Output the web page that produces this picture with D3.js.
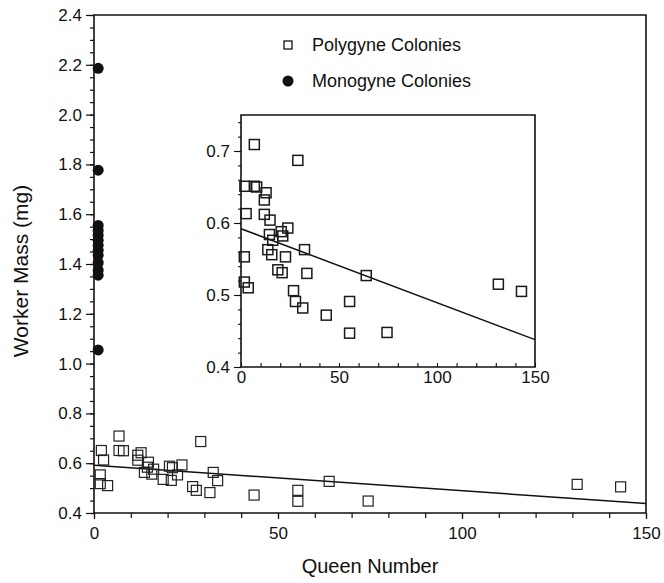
<!DOCTYPE html>
<html>
<head>
<meta charset="utf-8">
<script src="https://cdnjs.cloudflare.com/ajax/libs/d3/7.8.5/d3.min.js"></script>
<style>
  body { margin: 0; background: #fff; }
  text { font-family: "Liberation Sans", Arial, sans-serif; fill: #111; }
</style>
</head>
<body>
<div id="chart"></div>
<script>
// polygyne colonies: queen number / worker mass (mg)
var polyQueens = [6.8, 29.0, 2.0, 6.8, 8.0, 12.8, 11.9, 2.6, 11.9, 14.8, 23.9, 20.5, 14.5, 21.3, 16.2,
                  13.7, 32.4, 1.7, 15.7, 22.7, 18.8, 21.0, 33.6, 1.7, 3.7, 26.8, 27.8, 31.5, 43.5,
                  55.4, 55.4, 63.9, 74.5, 131.3, 143.1];
var polyMass = [0.709, 0.687, 0.651, 0.651, 0.650, 0.642, 0.632, 0.613, 0.612, 0.604, 0.593, 0.588, 0.584, 0.582, 0.576,
                0.563, 0.563, 0.553, 0.556, 0.553, 0.535, 0.531, 0.530, 0.518, 0.510, 0.506, 0.491, 0.482, 0.472,
                0.491, 0.447, 0.527, 0.448, 0.515, 0.505];
// monogyne colonies (one queen each)
var monoQueens = [1, 1, 1, 1, 1, 1, 1, 1, 1, 1, 1, 1, 1];
var monoMass = [2.186, 1.777, 1.555, 1.535, 1.515, 1.495, 1.475, 1.455, 1.435, 1.405, 1.375, 1.355, 1.055];
// regression line
var fitQueens = [0, 150];
var fitMass = [0.592, 0.438];

var mainXTicks = [0, 50, 100, 150];
var mainYTicks = [0.4, 0.6, 0.8, 1.0, 1.2, 1.4, 1.6, 1.8, 2.0, 2.2, 2.4];
var insetXTicks = [0, 50, 100, 150];
var insetYTicks = [0.4, 0.5, 0.6, 0.7];

var svg = d3.select('#chart').append('svg')
            .attr('width', 664)
            .attr('height', 583);

var x = d3.scaleLinear().domain([0, 150]).range([94, 646]);
var y = d3.scaleLinear().domain([0.4, 2.4]).range([513, 15]);

var ix = d3.scaleLinear().domain([0, 150]).range([241, 535]);
var iy = d3.scaleLinear().domain([0.4, 0.75]).range([367, 115]);

function styleAxis(g, width) {
  g.select('.domain').remove();
  g.selectAll('line').attr('stroke', '#111').attr('stroke-width', width);
  g.selectAll('text').attr('font-size', '17px').attr('fill', '#111');
}

// ---- main plot ----
svg.append('g')
   .attr('transform', 'translate(0,513)')
   .call(d3.axisBottom(x).tickValues(d3.range(0, 151, 10)).tickSize(5).tickFormat(''))
   .call(styleAxis, 1.2);
svg.append('g')
   .attr('transform', 'translate(0,513)')
   .call(d3.axisBottom(x).tickValues(mainXTicks).tickSize(6).tickPadding(8).tickFormat(d3.format('d')))
   .call(styleAxis, 1.2);

svg.append('g')
   .attr('transform', 'translate(94,0)')
   .call(d3.axisLeft(y).tickValues(d3.range(0.4, 2.401, 0.05)).tickSize(4).tickFormat(''))
   .call(styleAxis, 1.2);
svg.append('g')
   .attr('transform', 'translate(94,0)')
   .call(d3.axisLeft(y).tickValues(mainYTicks).tickSize(8).tickPadding(4).tickFormat(d3.format('.1f')))
   .call(styleAxis, 1.2);

// frame
svg.append('path')
   .attr('d', 'M94,15V513H646V15Z')
   .attr('fill', 'none')
   .attr('stroke', '#111')
   .attr('stroke-width', 1.6);

var mainLine = d3.line()
                 .x(function(d, i){ return x(fitQueens[i]); })
                 .y(function(d, i){ return y(fitMass[i]); });
svg.append('path')
   .attr('d', mainLine(fitQueens))
   .attr('fill', 'none')
   .attr('stroke', '#111')
   .attr('stroke-width', 1.5);

svg.append('g').selectAll('rect')
   .data(polyQueens)
   .enter().append('rect')
   .attr('x', function(d){ return x(d) - 5; })
   .attr('y', function(d, i){ return y(polyMass[i]) - 5; })
   .attr('width', 10)
   .attr('height', 10)
   .attr('fill', 'none')
   .attr('stroke', '#222')
   .attr('stroke-width', 1.2);

svg.append('g').selectAll('circle')
   .data(monoQueens)
   .enter().append('circle')
   .attr('cx', function(d){ return x(d) + 0.5; })
   .attr('cy', function(d, i){ return y(monoMass[i]); })
   .attr('r', 5.5)
   .attr('fill', '#111');

// axis titles
svg.append('text')
   .attr('x', 370)
   .attr('y', 573)
   .attr('text-anchor', 'middle')
   .attr('font-size', '20px')
   .text('Queen Number');
svg.append('text')
   .attr('transform', 'translate(28,271) rotate(-90)')
   .attr('text-anchor', 'middle')
   .attr('font-size', '21px')
   .text('Worker Mass (mg)');

// legend
svg.append('rect')
   .attr('x', 284).attr('y', 41)
   .attr('width', 8).attr('height', 8)
   .attr('fill', 'none')
   .attr('stroke', '#111')
   .attr('stroke-width', 1.3);
svg.append('text')
   .attr('x', 312).attr('y', 51)
   .attr('font-size', '18px')
   .text('Polygyne Colonies');
svg.append('circle')
   .attr('cx', 288).attr('cy', 81)
   .attr('r', 5.5)
   .attr('fill', '#111');
svg.append('text')
   .attr('x', 312).attr('y', 87)
   .attr('font-size', '18px')
   .text('Monogyne Colonies');

// ---- inset ----
svg.append('rect')
   .attr('x', 241).attr('y', 115)
   .attr('width', 294).attr('height', 252)
   .attr('fill', '#fff');

svg.append('g')
   .attr('transform', 'translate(0,367)')
   .call(d3.axisTop(ix).tickValues(d3.range(0, 151, 10)).tickSize(4).tickFormat(''))
   .call(styleAxis, 1.1);
svg.append('g')
   .attr('transform', 'translate(0,367)')
   .call(d3.axisBottom(ix).tickValues(insetXTicks).tickSize(0).tickPadding(4).tickFormat(d3.format('d')))
   .call(styleAxis, 1.1);

svg.append('g')
   .attr('transform', 'translate(241,0)')
   .call(d3.axisLeft(iy).tickValues(d3.range(0.4, 0.7401, 0.02)).tickSize(3).tickFormat(''))
   .call(styleAxis, 1.1);
svg.append('g')
   .attr('transform', 'translate(241,0)')
   .call(d3.axisLeft(iy).tickValues(insetYTicks).tickSize(7).tickPadding(4).tickFormat(d3.format('.1f')))
   .call(styleAxis, 1.1);

svg.append('path')
   .attr('d', 'M241,115V367H535V115Z')
   .attr('fill', 'none')
   .attr('stroke', '#111')
   .attr('stroke-width', 1.6);

var insetLine = d3.line()
                  .x(function(d, i){ return ix(fitQueens[i]); })
                  .y(function(d, i){ return iy(fitMass[i]); });
svg.append('path')
   .attr('d', insetLine(fitQueens))
   .attr('fill', 'none')
   .attr('stroke', '#111')
   .attr('stroke-width', 1.5);

svg.append('g').selectAll('rect')
   .data(polyQueens)
   .enter().append('rect')
   .attr('x', function(d){ return ix(d) - 5; })
   .attr('y', function(d, i){ return iy(polyMass[i]) - 5; })
   .attr('width', 10)
   .attr('height', 10)
   .attr('fill', 'none')
   .attr('stroke', '#1a1a1a')
   .attr('stroke-width', 1.5);
</script>
</body>
</html>
